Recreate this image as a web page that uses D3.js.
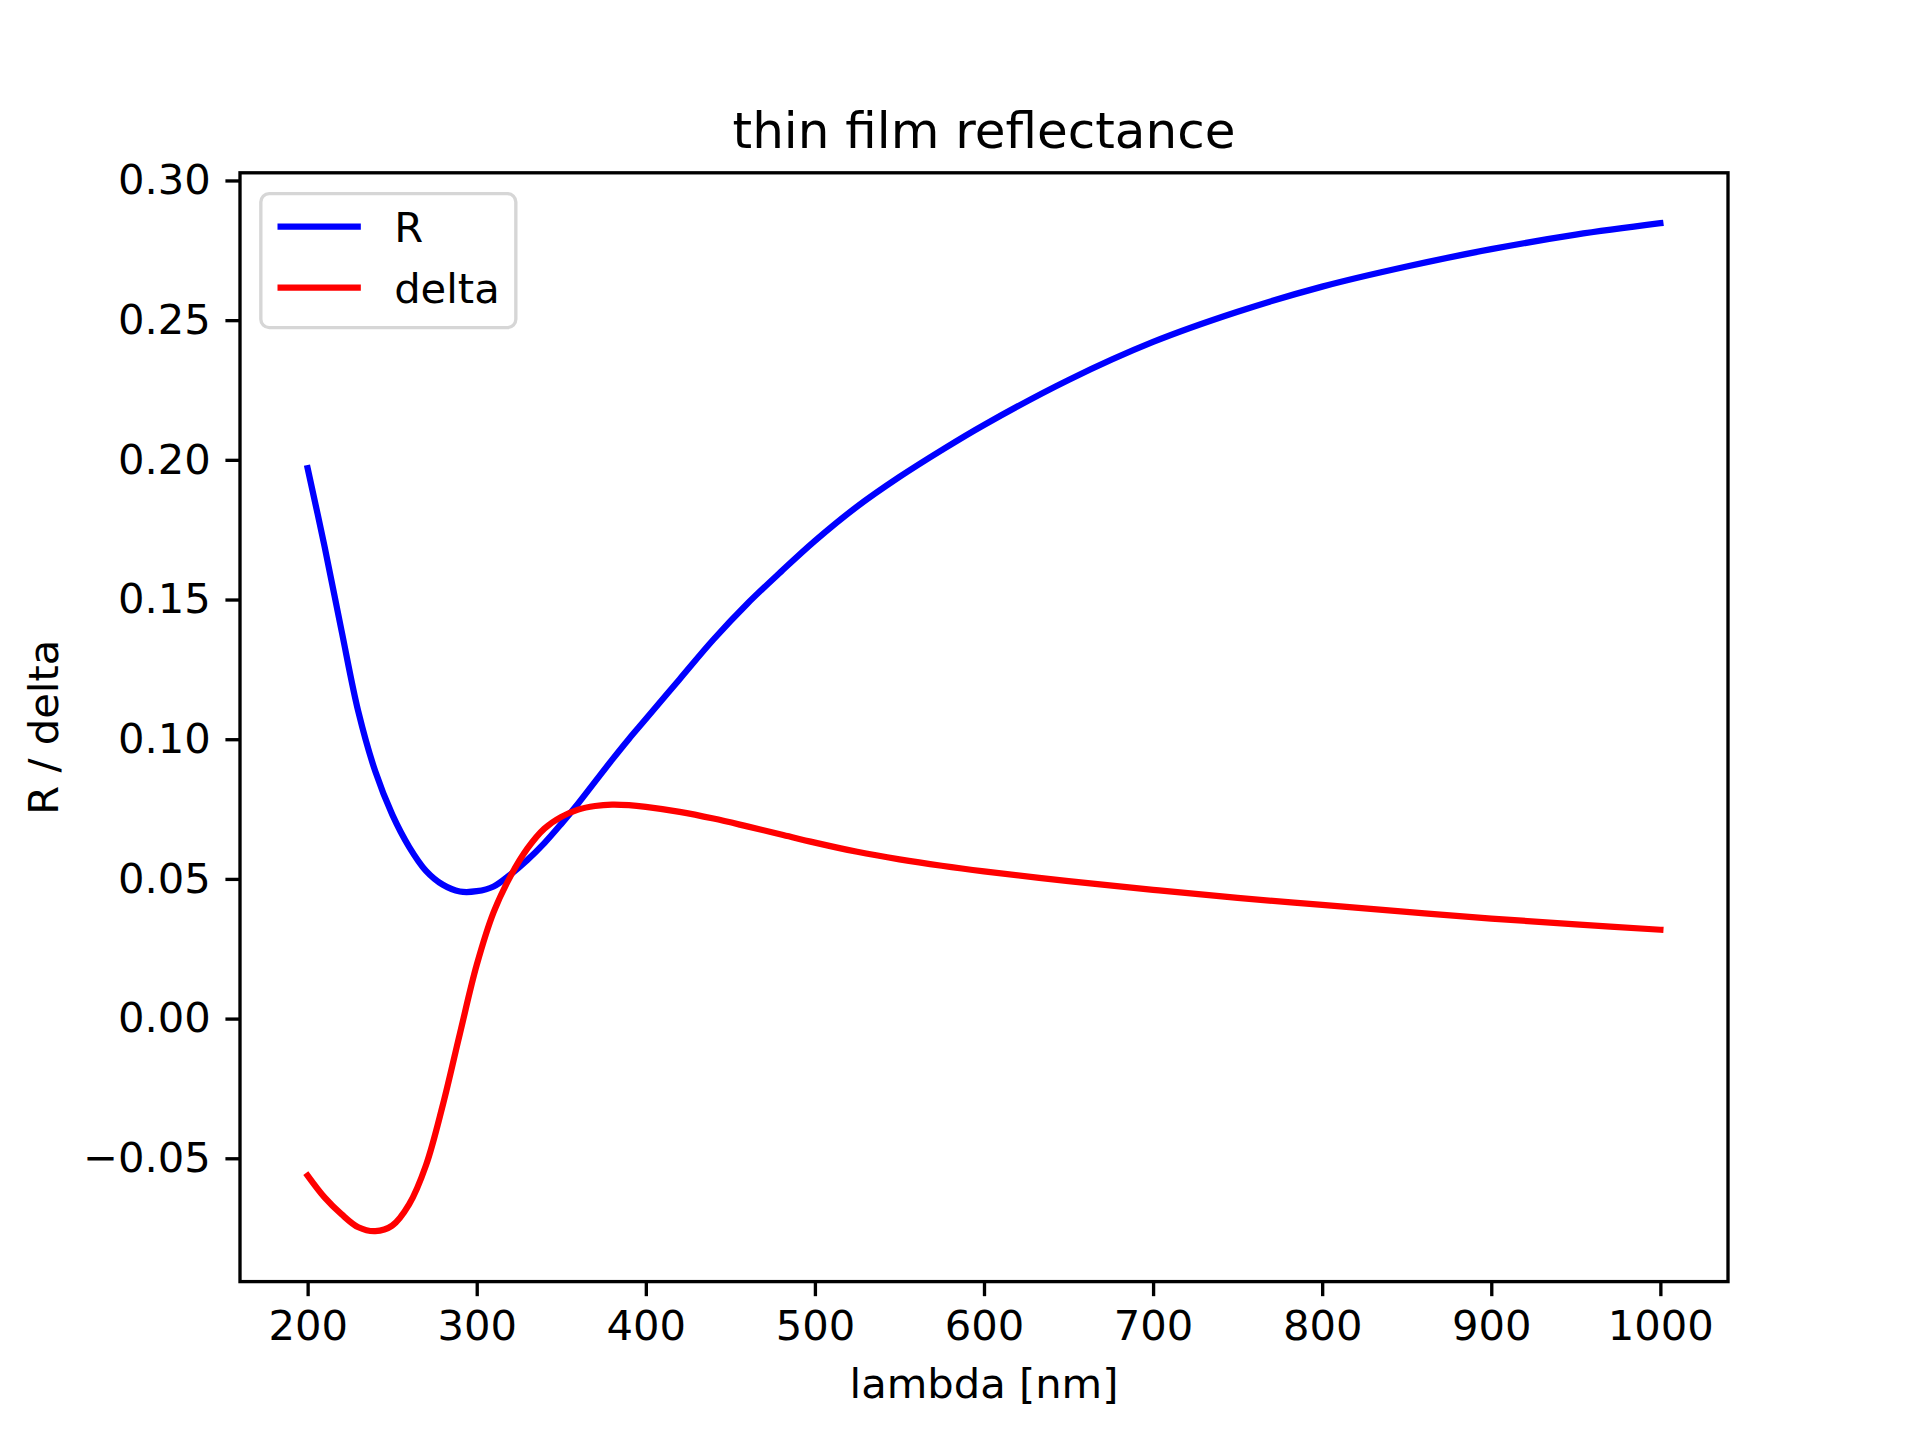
<!DOCTYPE html>
<html>
<head>
<meta charset="utf-8">
<script src="https://cdn.jsdelivr.net/npm/d3@7"></script>
<style>
  body { margin: 0; background: #fff; }
  text { font-family: 'DejaVu Sans', sans-serif; fill: #000; }
</style>
</head>
<body>
<div id="grafico"></div>
<script>
// wavelength grid [nm]
const lambda = [200, 210, 220, 230, 240, 250, 260, 270, 280, 290, 300, 310, 320, 330, 340, 350, 360, 370, 380, 390,
                400, 420, 440, 460, 480, 500, 525, 550, 575, 600, 650, 700, 750, 800, 850, 900, 950, 1000]

const R = [0.197, 0.169, 0.139, 0.1098, 0.0885, 0.0731, 0.0615, 0.0529, 0.0479, 0.0455, 0.0456, 0.0473, 0.0516, 0.0568,
           0.0628, 0.0697, 0.0770, 0.0848, 0.0926, 0.1001, 0.1072, 0.1215, 0.1357, 0.1485, 0.1600, 0.1710, 0.1833,
           0.1939, 0.2035, 0.2125, 0.2286, 0.2422, 0.2530, 0.2620, 0.2692, 0.2754, 0.2806, 0.2847]

const delta = [-0.0562, -0.0640, -0.0700, -0.0747, -0.0761, -0.0741, -0.0665, -0.0525, -0.0308, -0.0055, 0.0192, 0.0381,
               0.0510, 0.0609, 0.0680, 0.0722, 0.0748, 0.0761, 0.0766, 0.0764, 0.0758, 0.0740, 0.0716, 0.0688, 0.0659,
               0.0630, 0.0597, 0.0570, 0.0547, 0.0527, 0.0492, 0.0461, 0.0432, 0.0407, 0.0382, 0.0358, 0.0337, 0.0318]

const xTicks = [200, 300, 400, 500, 600, 700, 800, 900, 1000]
const yTicks = [-0.05, 0.00, 0.05, 0.10, 0.15, 0.20, 0.25, 0.30]

const series = [
    { name: 'R', values: R, color: 'blue' },
    { name: 'delta', values: delta, color: 'red' }
]

const width = 1920
const height = 1440
const pt = 300 / 72
const margin = { left: 240, right: 192, top: 172.8, bottom: 158.4 }

const svg = d3.select('#grafico')
              .append('svg')
              .attr('width', width)
              .attr('height', height)

// matplotlib style autoscale with 5% margins
const xMin = d3.min(lambda), xMax = d3.max(lambda)
const xPad = (xMax - xMin) * 0.05
const allY = R.concat(delta)
const yMin = d3.min(allY), yMax = d3.max(allY)
const yPad = (yMax - yMin) * 0.05

const x = d3.scaleLinear()
            .domain([xMin - xPad, xMax + xPad])
            .range([margin.left, width - margin.right])

const y = d3.scaleLinear()
            .domain([yMin - yPad, yMax + yPad])
            .range([height - margin.bottom, margin.top])

const fontTick = 10 * pt
const tickLen = 3.5 * pt
const tickW = 0.8 * pt

const xAxis = svg.append('g')
                 .attr('transform', `translate(0, ${height - margin.bottom})`)
                 .call(d3.axisBottom(x).tickValues(xTicks).tickSize(tickLen).tickPadding(3.5 * pt).tickFormat(d3.format('d')))
xAxis.select('.domain').remove()
xAxis.selectAll('line').attr('stroke', '#000').attr('stroke-width', tickW)
xAxis.selectAll('text').attr('font-size', fontTick).style('font-family', 'DejaVu Sans')

const yAxis = svg.append('g')
                 .attr('transform', `translate(${margin.left}, 0)`)
                 .call(d3.axisLeft(y).tickValues(yTicks).tickSize(tickLen).tickPadding(3.5 * pt)
                         .tickFormat(d => d3.format('.2f')(d).replace('-', '\u2212')))
yAxis.select('.domain').remove()
yAxis.selectAll('line').attr('stroke', '#000').attr('stroke-width', tickW)
yAxis.selectAll('text').attr('font-size', fontTick).style('font-family', 'DejaVu Sans')

svg.append('clipPath').attr('id', 'plotArea')
   .append('rect')
   .attr('x', margin.left).attr('y', margin.top)
   .attr('width', width - margin.left - margin.right)
   .attr('height', height - margin.top - margin.bottom)

const line = d3.line()
               .x((d, i) => x(lambda[i]))
               .y(d => y(d))
               .curve(d3.curveCatmullRom.alpha(0.5))

svg.append('g')
   .attr('clip-path', 'url(#plotArea)')
   .selectAll('path')
   .data(series)
   .enter()
   .append('path')
   .attr('d', d => line(d.values))
   .attr('fill', 'none')
   .attr('stroke', d => d.color)
   .attr('stroke-width', 1.5 * pt)
   .attr('stroke-linecap', 'square')

// frame
svg.append('rect')
   .attr('x', margin.left).attr('y', margin.top)
   .attr('width', width - margin.left - margin.right)
   .attr('height', height - margin.top - margin.bottom)
   .attr('fill', 'none')
   .attr('stroke', '#000')
   .attr('stroke-width', tickW)

// title and labels
svg.append('text')
   .attr('x', (margin.left + width - margin.right) / 2)
   .attr('y', 148)
   .attr('text-anchor', 'middle')
   .attr('font-size', 12 * pt)
   .text('thin film reflectance')

svg.append('text')
   .attr('x', (margin.left + width - margin.right) / 2)
   .attr('y', 1398)
   .attr('text-anchor', 'middle')
   .attr('font-size', fontTick)
   .text('lambda [nm]')

svg.append('text')
   .attr('transform', `translate(58, ${(margin.top + height - margin.bottom) / 2}) rotate(-90)`)
   .attr('text-anchor', 'middle')
   .attr('font-size', fontTick)
   .text('R / delta')

// legend
const fs = fontTick
const legX = margin.left + 0.5 * fs
const legY = margin.top + 0.5 * fs
const legend = svg.append('g')

legend.append('rect')
      .attr('x', legX).attr('y', legY)
      .attr('width', 255).attr('height', 134)
      .attr('rx', 0.2 * fs).attr('ry', 0.2 * fs)
      .attr('fill', 'rgba(255,255,255,0.8)')
      .attr('stroke', '#d6d6d6')
      .attr('stroke-width', tickW)

const item = legend.selectAll('g.item')
                   .data(series)
                   .enter()
                   .append('g')
                   .attr('class', 'item')
                   .attr('transform', (d, i) => `translate(${legX + 0.4 * fs}, ${legY + 33 + i * 61})`)

item.append('line')
    .attr('x1', 0).attr('x2', 2 * fs)
    .attr('stroke', d => d.color)
    .attr('stroke-width', 1.5 * pt)

item.append('text')
    .attr('x', 2.8 * fs)
    .attr('y', 0)
    .attr('dy', '0.36em')
    .attr('font-size', fs)
    .text(d => d.name)
</script>
</body>
</html>
